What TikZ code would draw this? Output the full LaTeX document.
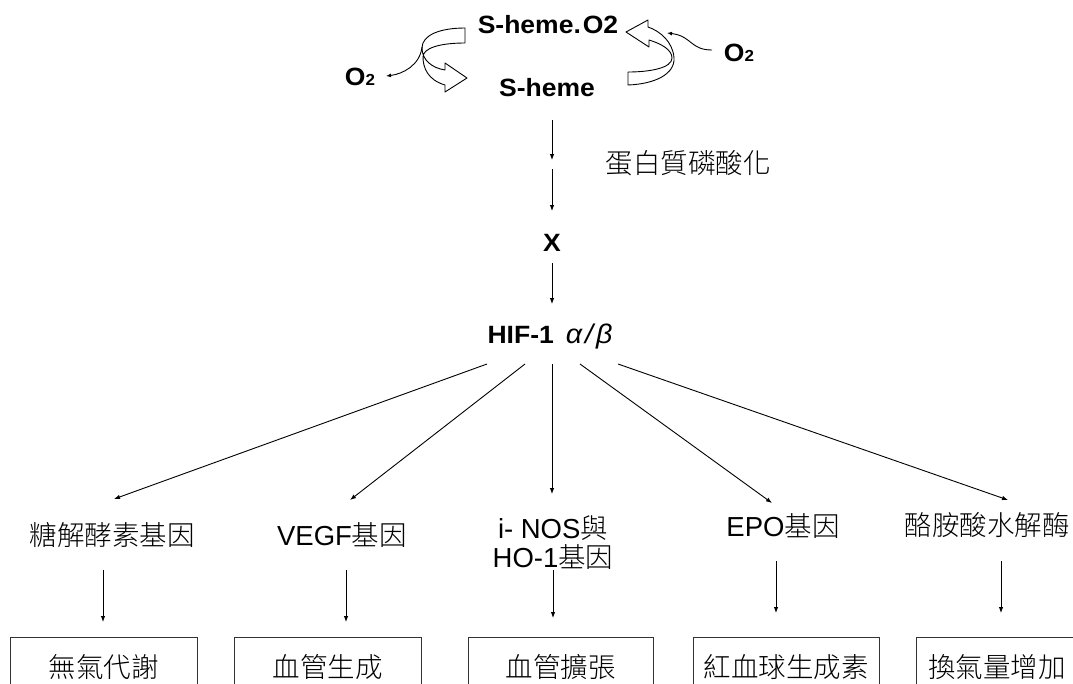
\documentclass[tikz,border=0pt]{standalone}
\usepackage{fontspec}
\setmainfont{Liberation Sans}
\newfontfamily\topfont[FakeStretch=1.06]{Liberation Sans}
\newfontfamily\cjk{Noto Sans CJK TC Light}
\usetikzlibrary{arrows.meta}
\newcommand\labsz{\fontsize{27.5}{29}\selectfont}
\newcommand\topsz{\fontsize{25}{27}\selectfont\topfont\bfseries}
\newcommand\zh[1]{{\cjk #1}}
\begin{document}
\begin{tikzpicture}[x=1pt,y=-1pt,
  every node/.style={inner sep=0pt},
  topb/.style={font=\topsz},
  gene/.style={font=\labsz, align=center},
  outbox/.style={draw=black!80, line width=0.8pt, font=\labsz, minimum height=60pt, anchor=north},
  arr/.style={-{Latex[length=6pt,width=4.5pt]}, line width=0.9pt},
  thinarr/.style={-{Latex[length=5pt,width=4pt]}, line width=0.9pt},
  band/.style={draw, fill=white, line width=0.9pt, line join=round}]
\useasboundingbox (0,0) rectangle (1073,683);

% top cycle
\node[topb] (sho2) at (548,25) {S-heme.\hspace{2pt}O2};
\node[topb] (sh) at (547,88) {S-heme};
\node[topb] (o2l) at (360,77) {O{\fontsize{16}{16}\selectfont 2}};
\node[topb] (o2r) at (739,53) {O{\fontsize{16}{16}\selectfont 2}};

\draw[band] (465,28) .. controls (440,28) and (422,35) .. (422,48)
  .. controls (422,60) and (432,68) .. (445,70) -- (445,63) -- (467,78)
  -- (445,92) -- (445,85) .. controls (428,80) and (423,68) .. (423,57)
  .. controls (423,48) and (440,43) .. (465,43) -- cycle;
\draw[band] (628,72) -- (628,85) .. controls (655,84) and (675,74) .. (674,58)
  .. controls (673,42) and (660,31) .. (648,27) -- (648,20) -- (626,32)
  -- (649,47) -- (649,40) .. controls (662,44) and (672,50) .. (672,58)
  .. controls (672,68) and (650,72) .. (628,72) -- cycle;

\coordinate (pinchL) at (422,47);
\coordinate (o2ltip) at (386,76);
\coordinate (o2rstart) at (712,50);
\coordinate (bandR) at (667,33);
\draw[thinarr] (pinchL) .. controls (420,65) and (403,74) .. (o2ltip);
\draw[thinarr] (o2rstart) .. controls (690,50) and (692,36) .. (bandR);

% main chain
\node[gene] (phos) at (688,163) {\zh{蛋白質磷酸化}};
\node[topb] (x) at (552,243) {X};
\node (hif) at (550,337) {\topsz HIF-1\hspace{12pt}{\fontsize{27}{28}\selectfont\mdseries\itshape α\hspace{3pt}/\hspace{3pt}β}};

\coordinate (s0) at (552,120);
\coordinate (s0e) at (552,160);
\coordinate (s1) at (552,169);
\coordinate (s1e) at (552,211);
\coordinate (s2) at (552,263);
\coordinate (s2e) at (552,304);
\draw[arr] (s0) -- (s0e);
\draw[arr] (s1) -- (s1e);
\draw[arr] (s2) -- (s2e);

% genes
\node[gene] (g1) at (112,535) {\zh{糖解酵素基因}};
\node[gene] (g2) at (342,535) {VEGF\zh{基因}};
\node[gene] (g3) at (553,543) {i- NOS\zh{與}\\HO-1\zh{基因}};
\node[gene] (g4) at (783,526) {EPO\zh{基因}};
\node[gene] (g5) at (987,525) {\zh{酪胺酸水解酶}};

\coordinate (h1) at (487,364);
\coordinate (h2) at (525,364);
\coordinate (h3) at (552,364);
\coordinate (h4) at (580,364);
\coordinate (h5) at (618,364);
\coordinate (t1) at (114,499);
\coordinate (t2) at (350,500);
\coordinate (t3) at (552,494);
\coordinate (t4) at (772,503);
\coordinate (t5) at (1008,500);
\foreach \i in {1,...,5} {\draw[arr] (h\i) -- (t\i);}

% outcome boxes
\node[outbox, minimum width=187pt] (b1) at (103.5,637) {\zh{無氣代謝}};
\node[outbox, minimum width=187pt] (b2) at (327.5,637) {\zh{血管生成}};
\node[outbox, minimum width=185pt] (b3) at (560.5,637) {\zh{血管擴張}};
\node[outbox, minimum width=186pt] (b4) at (786,637) {\zh{紅血球生成素}};
\node[outbox, minimum width=162pt] (b5) at (997,637) {\zh{換氣量增加}};

\coordinate (d1) at (103,570);  \coordinate (e1) at (103,622);
\coordinate (d2) at (346,570);  \coordinate (e2) at (346,622);
\coordinate (d3) at (553,570);  \coordinate (e3) at (553,618);
\coordinate (d4) at (776,561);  \coordinate (e4) at (776,613);
\coordinate (d5) at (1001,561); \coordinate (e5) at (1001,613);
\foreach \i in {1,...,5} {\draw[arr] (d\i) -- (e\i);}
\end{tikzpicture}
\end{document}
